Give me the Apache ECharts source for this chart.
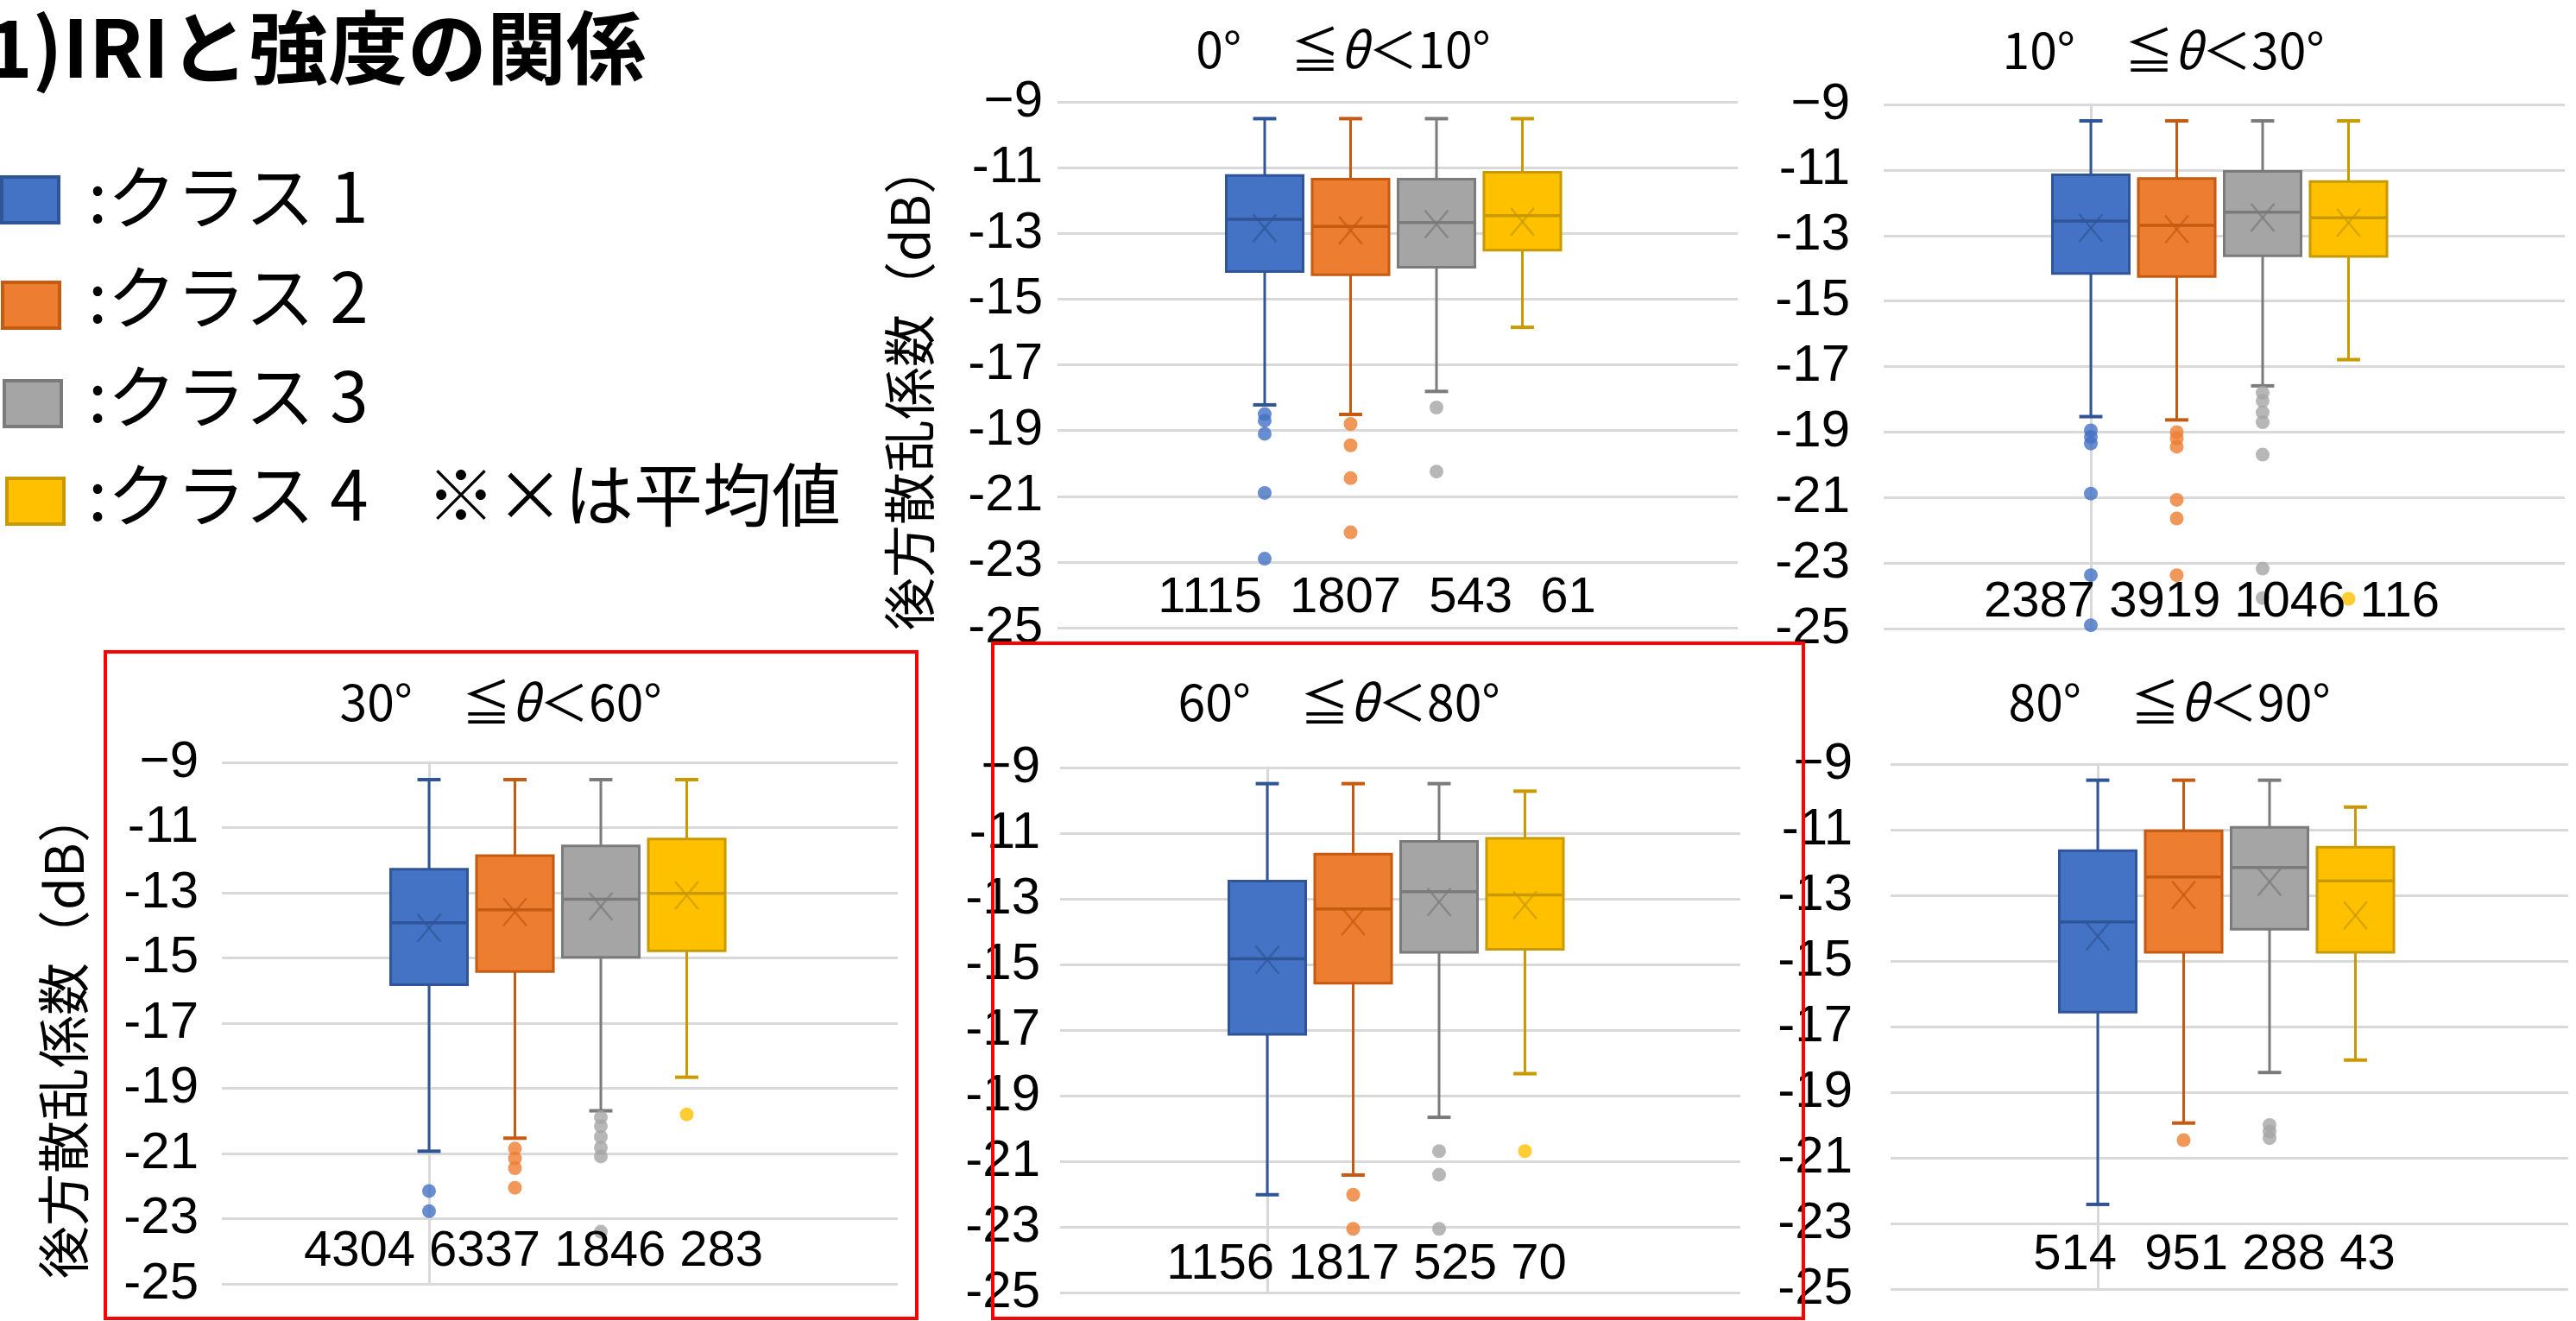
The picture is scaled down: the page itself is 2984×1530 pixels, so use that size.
<!DOCTYPE html>
<html>
<head>
<meta charset="utf-8">
<script src="https://cdn.jsdelivr.net/npm/echarts@6/dist/echarts.min.js"></script>
<style>
html,body{margin:0;padding:0;background:#ffffff;}
#chart{width:2984px;height:1530px;}
</style>
</head>
<body>
<div id="chart"></div>
<script>
// ---------------- DATA ----------------
const mainTitle = '1)IRIと強度の関係';
const classNames = [':クラス 1', ':クラス 2', ':クラス 3', ':クラス 4'];
const meanNote = '※×は平均値';
const yAxisName = '後方散乱係数（dB）';

const tickValues = [-25, -23, -21, -19, -17, -15, -13, -11, -9];
const tickLabels = ['-25', '-23', '-21', '-19', '-17', '-15', '-13', '-11', '−9'];

const angleLower = [0, 10, 30, 60, 80];
const angleUpper = [10, 30, 60, 80, 90];

// each class: [whiskerLow, Q1, median, Q3, whiskerHigh, mean]
const p1Stats = [
  [-18.22, -14.16, -12.57, -11.24, -9.51, -12.84],
  [-18.51, -14.26, -12.79, -11.35, -9.51, -12.91],
  [-17.81, -14.03, -12.67, -11.35, -9.51, -12.72],
  [-15.86, -13.51, -12.46, -11.14, -9.51, -12.65]
];
const p1Outliers = [
  [-18.5, -18.7, -19.1, -20.9, -22.9],
  [-18.8, -19.45, -20.45, -22.1],
  [-18.3, -20.25],
  []
];
const p1Counts = [1115, 1807, 543, 61];

const p2Stats = [
  [-18.53, -14.16, -12.56, -11.15, -9.5, -12.77],
  [-18.63, -14.25, -12.69, -11.26, -9.5, -12.81],
  [-17.59, -13.62, -12.29, -11.04, -9.5, -12.45],
  [-16.79, -13.64, -12.46, -11.35, -9.5, -12.61]
];
const p2Outliers = [
  [-18.95, -19.15, -19.35, -20.88, -23.37, -24.9],
  [-19.0, -19.2, -19.45, -21.07, -21.64, -23.37],
  [-17.8, -18.05, -18.4, -18.7, -19.69, -23.17, -24.07],
  [-24.09]
];
const p2Counts = [2387, 3919, 1046, 116];

const p3Stats = [
  [-20.93, -15.82, -13.92, -12.28, -9.53, -14.08],
  [-20.53, -15.42, -13.52, -11.86, -9.53, -13.59],
  [-19.69, -14.98, -13.2, -11.56, -9.53, -13.42],
  [-18.66, -14.78, -13.02, -11.35, -9.53, -13.08]
];
const p3Outliers = [
  [-22.15, -22.77],
  [-20.85, -21.15, -21.45, -22.05],
  [-19.89, -20.16, -20.49, -20.82, -21.09, -23.4],
  [-19.8]
];
const p3Counts = [4304, 6337, 1846, 283];

const p4Stats = [
  [-22.02, -17.13, -14.83, -12.46, -9.49, -14.86],
  [-21.42, -15.57, -13.31, -11.64, -9.49, -13.69],
  [-19.66, -14.63, -12.78, -11.25, -9.49, -13.10],
  [-18.33, -14.54, -12.88, -11.16, -9.72, -13.19]
];
const p4Outliers = [
  [],
  [-22.02, -23.06],
  [-20.69, -21.41, -23.06],
  [-20.69]
];
const p4Counts = [1156, 1817, 525, 70];

const p5Stats = [
  [-22.42, -16.56, -13.81, -11.64, -9.49, -14.25],
  [-19.94, -14.74, -12.44, -11.03, -9.49, -12.99],
  [-18.40, -14.03, -12.15, -10.93, -9.49, -12.59],
  [-18.02, -14.74, -12.56, -11.53, -10.31, -13.61]
];
const p5Outliers = [
  [],
  [-20.46],
  [-20.0, -20.2, -20.4],
  []
];
const p5Counts = [514, 951, 288, 43];

// ---------------- STYLE / LAYOUT ----------------
const classFill = ['#4472C4', '#ED7D31', '#A5A5A5', '#FFC000'];
const classLine = ['#2F5597', '#C55A11', '#7B7B7B', '#C99A00'];
const GRID_COLOR = '#D9D9D9';
const JP = '"Noto Sans CJK JP", sans-serif';
const NUM = '"Liberation Sans", Arial, sans-serif';
const BOX_W = 0.895, CAP_W = 0.27, MEAN_W = 0.27, MEAN_H = 32;
const UNIT_PX = 99.5, FIRST_OFFSET = 240;

const panels = [
  {stats: p1Stats, outliers: p1Outliers, counts: p1Counts, seps: ['  ', '  ', '  '],
   grid: {left: 1225, top: 118, width: 788, height: 609}, margin: 17, axisLine: false,
   title: [1556, 57], countPos: [1595, 693], yName: [1054, 447]},
  {stats: p2Stats, outliers: p2Outliers, counts: p2Counts, seps: [' ', ' ', ' '],
   grid: {left: 2182, top: 121, width: 789, height: 607}, margin: 39, axisLine: true,
   title: [2506, 58], countPos: [2562, 698]},
  {stats: p3Stats, outliers: p3Outliers, counts: p3Counts, seps: [' ', ' ', ' '],
   grid: {left: 257, top: 883, width: 783, height: 604}, margin: 27, axisLine: true,
   title: [580, 813], countPos: [618, 1450], yName: [74, 1198]},
  {stats: p4Stats, outliers: p4Outliers, counts: p4Counts, seps: [' ', ' ', ' '],
   grid: {left: 1228, top: 889, width: 788, height: 608}, margin: 23, axisLine: true,
   title: [1551, 813], countPos: [1583, 1465]},
  {stats: p5Stats, outliers: p5Outliers, counts: p5Counts, seps: ['  ', ' ', ' '],
   grid: {left: 2190, top: 885, width: 785, height: 608}, margin: 44, axisLine: true,
   title: [2513, 813], countPos: [2565, 1454]}
];

function renderBox(params, api) {
  const idx = api.value(0);
  const low = api.value(1), q1 = api.value(2), med = api.value(3);
  const q3 = api.value(4), high = api.value(5), mean = api.value(6);
  const unit = api.size([1, 0])[0];
  const x = api.coord([idx, med])[0];
  const yLow = api.coord([idx, low])[1];
  const yQ1 = api.coord([idx, q1])[1];
  const yMed = api.coord([idx, med])[1];
  const yQ3 = api.coord([idx, q3])[1];
  const yHigh = api.coord([idx, high])[1];
  const yMean = api.coord([idx, mean])[1];
  const bw = unit * BOX_W, cw = unit * CAP_W, mw = unit * MEAN_W;
  const fill = classFill[idx], line = classLine[idx];
  const ls = {stroke: line, lineWidth: 3};
  return {
    type: 'group',
    children: [
      {type: 'line', shape: {x1: x, y1: yHigh, x2: x, y2: yQ3}, style: ls},
      {type: 'line', shape: {x1: x, y1: yQ1, x2: x, y2: yLow}, style: ls},
      {type: 'line', shape: {x1: x - cw / 2, y1: yHigh, x2: x + cw / 2, y2: yHigh}, style: {stroke: line, lineWidth: 4}},
      {type: 'line', shape: {x1: x - cw / 2, y1: yLow, x2: x + cw / 2, y2: yLow}, style: {stroke: line, lineWidth: 4}},
      {type: 'rect', shape: {x: x - bw / 2, y: yQ3, width: bw, height: yQ1 - yQ3}, style: {fill: fill, stroke: line, lineWidth: 3}},
      {type: 'line', shape: {x1: x - bw / 2, y1: yMed, x2: x + bw / 2, y2: yMed}, style: {stroke: line, lineWidth: 3.5}},
      {type: 'line', shape: {x1: x - mw / 2, y1: yMean - MEAN_H / 2, x2: x + mw / 2, y2: yMean + MEAN_H / 2}, style: {stroke: line, lineWidth: 2.5, opacity: 0.7}},
      {type: 'line', shape: {x1: x - mw / 2, y1: yMean + MEAN_H / 2, x2: x + mw / 2, y2: yMean - MEAN_H / 2}, style: {stroke: line, lineWidth: 2.5, opacity: 0.7}}
    ]
  };
}

const grids = [], xAxes = [], yAxes = [], series = [], graphics = [];

panels.forEach((p, i) => {
  grids.push(Object.assign({containLabel: false}, p.grid));
  const minX = -FIRST_OFFSET / UNIT_PX;
  xAxes.push({type: 'value', gridIndex: i, show: false, min: minX, max: minX + p.grid.width / UNIT_PX,
              splitLine: {show: false}});
  yAxes.push({
    type: 'value', gridIndex: i, min: -25, max: -9,
    axisLine: {show: p.axisLine, lineStyle: {color: GRID_COLOR, width: 3}},
    axisTick: {show: false, customValues: tickValues},
    splitLine: {show: true, lineStyle: {color: GRID_COLOR, width: 3}},
    axisLabel: {
      customValues: tickValues,
      formatter: v => { const k = tickValues.indexOf(Math.round(v)); return k >= 0 ? tickLabels[k] : ''; },
      fontSize: 60, fontFamily: NUM, color: '#000', margin: p.margin
    }
  });
  series.push({
    type: 'custom', xAxisIndex: i, yAxisIndex: i, renderItem: renderBox,
    dimensions: ['cls', 'low', 'q1', 'median', 'q3', 'high', 'mean'],
    encode: {x: 0, y: [1, 2, 3, 4, 5, 6]},
    data: p.stats.map((s, k) => [k].concat(s)), z: 2, silent: true
  });
  series.push({
    type: 'scatter', xAxisIndex: i, yAxisIndex: i, symbol: 'circle', symbolSize: 16, z: 3, silent: true,
    data: p.outliers.flatMap((arr, k) => arr.map(v => ({value: [k, v], itemStyle: {color: classFill[k]}})))
  });

  // panel title
  graphics.push({
    type: 'text', x: p.title[0], y: p.title[1], z: 50,
    style: {
      text: `{n|${angleLower[i]}°　≦}{t|θ}{n|＜${angleUpper[i]}°}`,
      align: 'center', verticalAlign: 'middle',
      rich: {
        n: {fontSize: 57, fontFamily: JP, fill: '#000', color: '#000'},
        t: {fontSize: 57, fontFamily: JP, fontStyle: 'italic', fill: '#000', color: '#000'}
      }
    }
  });
  // counts
  let ct = String(p.counts[0]);
  for (let k = 1; k < p.counts.length; k++) ct += p.seps[k - 1] + p.counts[k];
  graphics.push({
    type: 'text', x: p.countPos[0], y: p.countPos[1], z: 50,
    style: {text: ct, fontSize: 58, fontFamily: NUM, fill: '#000', align: 'center', verticalAlign: 'middle'}
  });
  if (p.yName) {
    graphics.push({
      type: 'text', x: p.yName[0], y: p.yName[1], rotation: Math.PI / 2, z: 50,
      style: {text: yAxisName, fontSize: 61, fontFamily: JP, fill: '#000', align: 'center', verticalAlign: 'middle'}
    });
  }
});

// main title
graphics.push({
  type: 'text', x: 748, y: 55, z: 50,
  style: {text: mainTitle, fontSize: 92, fontWeight: 'bold', fontFamily: JP, fill: '#000', align: 'right', verticalAlign: 'middle'}
});
// legend
const legendSquares = [[2, 205], [3, 327], [5, 441], [8, 554]];
const legendTextY = [228, 344, 459, 573];
classNames.forEach((name, k) => {
  graphics.push({
    type: 'rect', z: 50,
    shape: {x: legendSquares[k][0], y: legendSquares[k][1], width: 66, height: 53},
    style: {fill: classFill[k], stroke: classLine[k], lineWidth: 4}
  });
  graphics.push({
    type: 'text', x: 102, y: legendTextY[k], z: 50,
    style: {text: name, fontSize: 80, fontFamily: JP, fill: '#000', align: 'left', verticalAlign: 'middle'}
  });
});
graphics.push({
  type: 'text', x: 494, y: legendTextY[3], z: 50,
  style: {text: meanNote, fontSize: 80, fontFamily: JP, fill: '#000', align: 'left', verticalAlign: 'middle'}
});
// red highlight frames
graphics.push({type: 'rect', z: 100, shape: {x: 122, y: 755, width: 940, height: 772}, style: {fill: 'none', stroke: '#FF0000', lineWidth: 4}});
graphics.push({type: 'rect', z: 100, shape: {x: 1150, y: 745, width: 939, height: 782}, style: {fill: 'none', stroke: '#FF0000', lineWidth: 4}});

const chart = echarts.init(document.getElementById('chart'), null, {renderer: 'canvas'});
chart.setOption({
  backgroundColor: '#ffffff',
  animation: false,
  grid: grids,
  xAxis: xAxes,
  yAxis: yAxes,
  series: series,
  graphic: graphics
});
</script>
</body>
</html>
